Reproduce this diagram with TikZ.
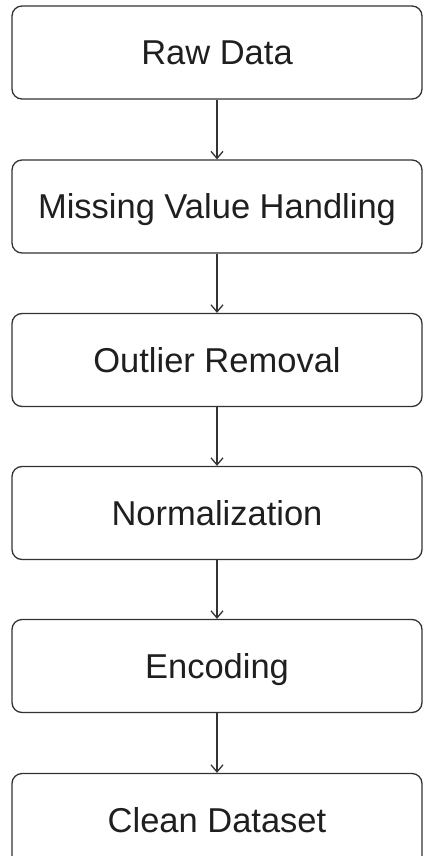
\documentclass[tikz,border=0pt]{standalone}
\usepackage{fontspec}
\setmainfont{Liberation Sans}
\usetikzlibrary{arrows.meta}
\begin{document}
\begin{tikzpicture}[x=1pt,y=-1pt,
  stepbox/.style={draw=black!80, line width=1.3pt, rounded corners=10pt, minimum width=410pt, minimum height=93pt, inner sep=0pt, font=\fontsize{34.5}{40}\selectfont, text=black!88, text height=24.7pt, text depth=0pt},
  flow/.style={draw=black!80, line width=1.3pt, -{Straight Barb[length=7pt,width=12pt,line width=1.3pt]}}]
\useasboundingbox (0,0) rectangle (424,856);
\clip (0,0) rectangle (424,856);
\node[stepbox] (a) at (217,52.5) {Raw Data};
\node[stepbox] (b) at (217,206.5) {Missing Value Handling};
\node[stepbox] (c) at (217,360) {Outlier Removal};
\node[stepbox] (d) at (217,513) {Normalization};
\node[stepbox] (e) at (217,666) {Encoding};
\node[stepbox] (f) at (217,820) {Clean Dataset};
\draw[flow] (a) -- (b);
\draw[flow] (b) -- (c);
\draw[flow] (c) -- (d);
\draw[flow] (d) -- (e);
\draw[flow] (e) -- (f);
\end{tikzpicture}
\end{document}
